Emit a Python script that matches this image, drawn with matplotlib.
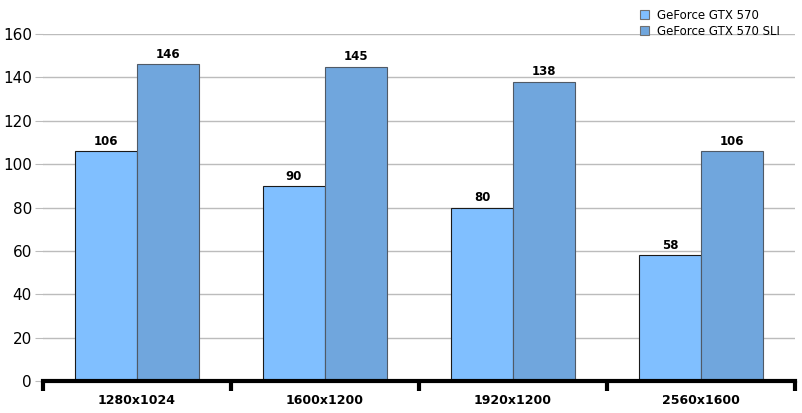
import matplotlib.pyplot as plt
import numpy as np

categories = ['1280x1024', '1600x1200', '1920x1200', '2560x1600']
gtx570 = [106, 90, 80, 58]
gtx570_sli = [146, 145, 138, 106]
series_names = ['GeForce GTX 570', 'GeForce GTX 570 SLI']

fig = plt.figure(figsize=(8.03, 4.13), dpi=100)
ax = fig.add_axes([43 / 803, 1 - 381 / 413, 752 / 803, 347 / 413])

x = np.arange(len(categories))
w = 0.33
b1 = ax.bar(x - w / 2, gtx570, w, color='#80bfff', edgecolor='#1a1a1a', linewidth=0.8,
            label=series_names[0], zorder=3)
b2 = ax.bar(x + w / 2, gtx570_sli, w, color='#70a6dd', edgecolor='#505a66', linewidth=0.8,
            label=series_names[1], zorder=3)

for bars in (b1, b2):
    for r in bars:
        ax.text(r.get_x() + r.get_width() / 2, r.get_height() + 1.5, f'{int(r.get_height())}',
                ha='center', va='bottom', fontsize=8.5, fontweight='bold')

ax.set_xlim(-0.5, len(categories) - 0.5)
ax.set_ylim(0, 160)
ax.set_yticks(range(0, 161, 20))
ax.yaxis.grid(True, color='#bcbcbc', linewidth=1, zorder=0)
ax.tick_params(axis='y', length=6, color='#bcbcbc', labelsize=11, pad=2)

# category boundary ticks on the x axis
ax.set_xticks(np.arange(-0.5, len(categories), 1))
ax.set_xticklabels([])
ax.set_xticks(x, minor=True)
ax.set_xticklabels(categories, minor=True, fontsize=9, fontweight='bold')
ax.tick_params(axis='x', which='major', direction='out', length=7, width=3, color='black')
ax.tick_params(axis='x', which='minor', length=0, pad=9)

for s in ('top', 'right', 'left'):
    ax.spines[s].set_visible(False)
ax.spines['bottom'].set_linewidth(3)
ax.spines['bottom'].set_zorder(4)

leg = fig.legend(loc='upper right', bbox_to_anchor=(0.985, 1.005), frameon=False, fontsize=8.5,
                 handlelength=0.8, handleheight=0.8, handletextpad=0.7, labelspacing=0.25)
for h in leg.legend_handles:
    h.set_edgecolor('#707070')

fig.savefig('out.png', dpi=100)
